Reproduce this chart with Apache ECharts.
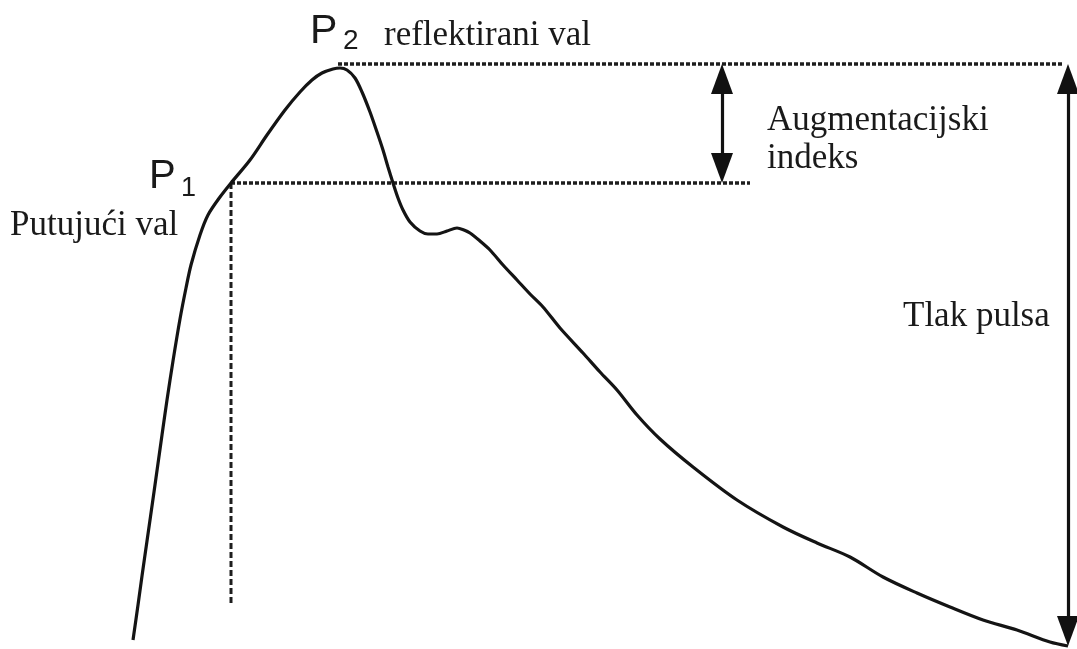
<!DOCTYPE html>
<html>
<head>
<meta charset="utf-8">
<script src="https://cdn.jsdelivr.net/npm/echarts@6/dist/echarts.min.js"></script>
<style>
  html, body { margin: 0; padding: 0; background: #fff; }
  #pulseWave { width: 1077px; height: 649px; }
</style>
</head>
<body>
<div id="pulseWave"></div>
<script>
// pulse wave: time (x) and pressure (height above baseline)
var time = [133, 138, 142, 147, 154, 162, 167, 173, 180, 186, 191, 200, 208, 220, 231, 250, 267, 285, 300, 312, 322, 333, 340, 347, 355, 362, 370, 377, 383, 388, 393, 398, 403, 410, 420, 428, 437, 447, 457, 464, 470, 480, 490, 503, 517, 530, 543, 560, 583, 600, 617, 637, 660, 693, 737, 783, 817, 850, 883, 917, 950, 983, 1017, 1050, 1068];
var pressure = [9, 44, 73, 108, 157, 214, 249, 288, 330, 361, 384, 414, 434, 452, 466, 489, 514, 539, 557, 569, 576, 580, 581, 579, 571, 557, 537, 517, 499, 482, 466, 451, 439, 427, 418, 415, 415, 418, 421, 419, 416, 408, 399, 384, 369, 355, 342, 321, 296, 277, 259, 234, 210, 182, 149, 122, 106, 92, 72, 56, 42, 29, 19, 7, 3];

// reference levels
var p1 = [231, 466];        // travelling wave shoulder
var p2Level = 585;          // reflected wave peak
var p2Start = 338;
var topEnd = 1063;
var p1End = 750;
var p1Foot = 45;
var aiX = 722;              // augmentation index arrow
var ppX = 1068;             // pulse pressure arrow
var ppFoot = 3;

var chartDom = document.getElementById('pulseWave');
var myChart = echarts.init(chartDom);
var option;

var curve = time.map(function (t, i) { return [t, pressure[i]]; });

function arrowLine(x, yTop, yBottom) {
  return [
    { coord: [x, yTop - 15], symbol: 'triangle', symbolSize: [22, 30] },
    { coord: [x, yBottom + 15], symbol: 'triangle', symbolSize: [22, 30] }
  ];
}

var serif = '35px "Liberation Serif", "Times New Roman", serif';
var sans = '"Liberation Sans", Arial, sans-serif';

option = {
  animation: false,
  grid: { left: 0, right: 0, top: 0, bottom: 0 },
  xAxis: { type: 'value', min: 0, max: 1077, show: false },
  yAxis: { type: 'value', min: 0, max: 649, show: false },
  series: [
    {
      type: 'line',
      data: curve,
      smooth: 0.3,
      symbol: 'none',
      lineStyle: { color: '#141414', width: 3.2 },
      z: 5
    },
    {
      type: 'line',
      data: [[p2Start, p2Level], [topEnd, p2Level]],
      symbol: 'none',
      lineStyle: { color: '#1e1e1e', width: 3.5, type: [4, 2] }
    },
    {
      type: 'line',
      data: [p1, [p1End, p1[1]]],
      symbol: 'none',
      lineStyle: { color: '#1e1e1e', width: 3.5, type: [4, 2] }
    },
    {
      type: 'line',
      data: [p1, [p1[0], p1Foot]],
      symbol: 'none',
      lineStyle: { color: '#1e1e1e', width: 3, type: [6, 3] }
    },
    {
      type: 'line',
      data: [],
      markLine: {
        silent: true,
        symbol: ['triangle', 'triangle'],
        symbolSize: [22, 30],
        label: { show: false },
        lineStyle: { color: '#111', width: 3.2, type: 'solid' },
        emphasis: { disabled: true },
        data: [
          arrowLine(aiX, p2Level, p1[1]),
          arrowLine(ppX, p2Level, ppFoot)
        ]
      }
    }
  ],
  graphic: [
    { type: 'text', left: 310, top: 11, style: { text: 'P', font: '41px ' + sans, fill: '#1a1a1a' } },
    { type: 'text', left: 343, top: 27, style: { text: '2', font: '28px ' + sans, fill: '#1a1a1a' } },
    { type: 'text', left: 149, top: 157, style: { text: 'P', font: '40px ' + sans, fill: '#1a1a1a' } },
    { type: 'text', left: 181, top: 175, style: { text: '1', font: '27px ' + sans, fill: '#1a1a1a' } },
    { type: 'text', left: 384, top: 18, style: { text: 'reflektirani val', font: serif, fill: '#1a1a1a' } },
    { type: 'text', left: 767, top: 103, style: { text: 'Augmentacijski', font: serif, fill: '#1a1a1a' } },
    { type: 'text', left: 767, top: 141, style: { text: 'indeks', font: serif, fill: '#1a1a1a' } },
    { type: 'text', left: 10, top: 208, style: { text: 'Putujući val', font: serif, fill: '#1a1a1a' } },
    { type: 'text', left: 903, top: 299, style: { text: 'Tlak pulsa', font: serif, fill: '#1a1a1a' } }
  ]
};

option && myChart.setOption(option);
</script>
</body>
</html>
